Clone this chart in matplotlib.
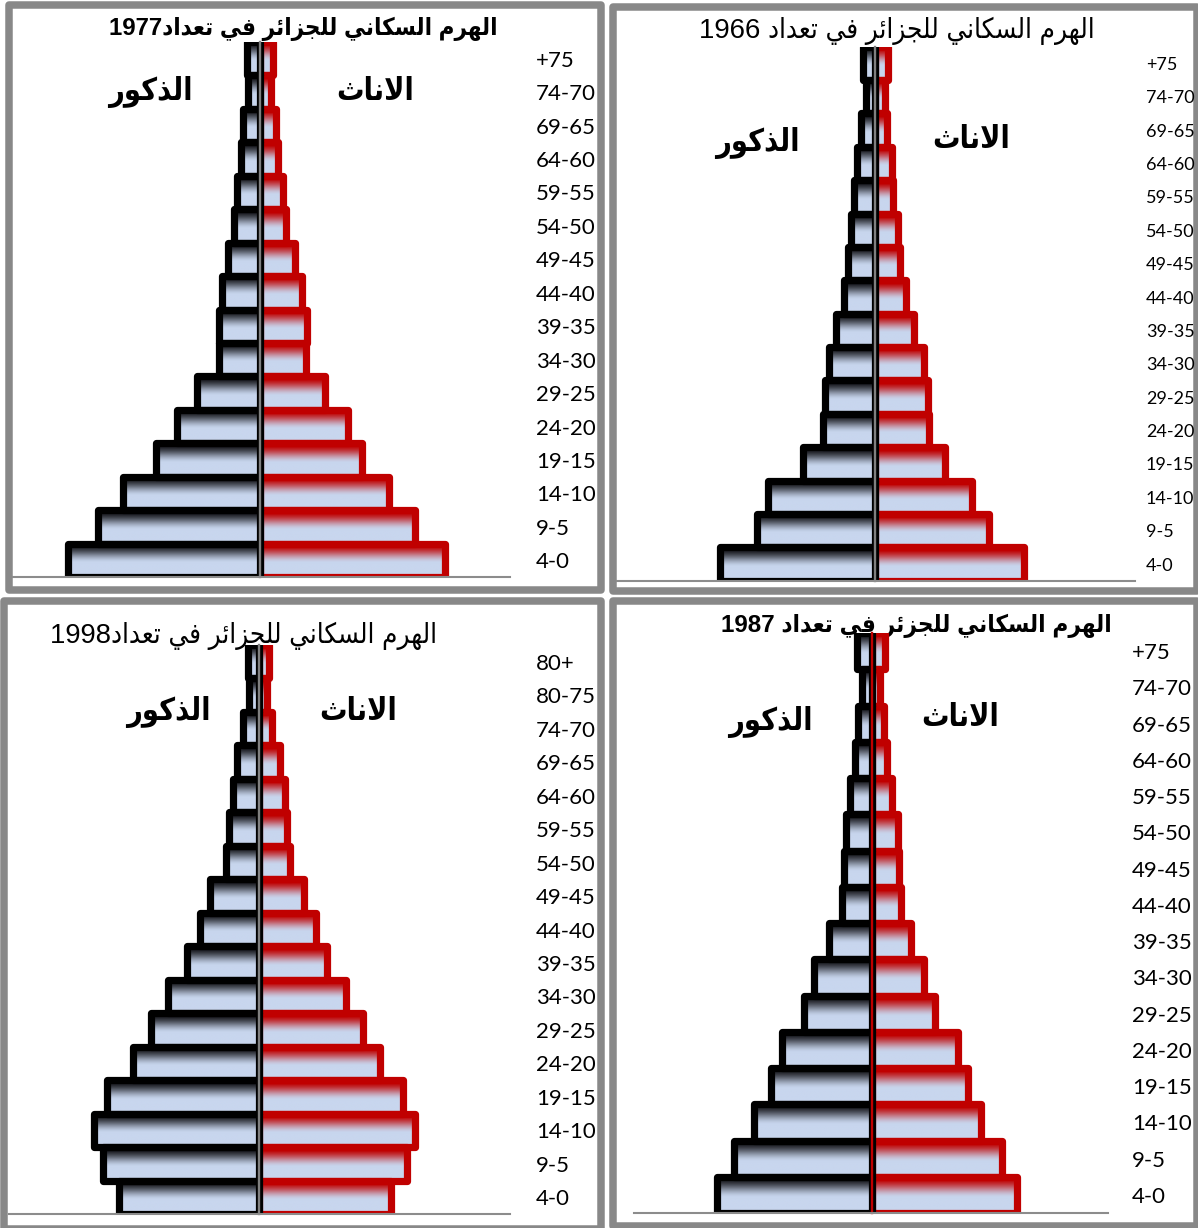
import re
import numpy as np
import matplotlib
matplotlib.use("Agg")
import matplotlib.pyplot as plt
from matplotlib.patches import Rectangle

# ---------------------------------------------------------------- data
# share of total population (%) per age group, youngest first
ages_16 = ["4-0", "9-5", "14-10", "19-15", "24-20", "29-25", "34-30", "39-35",
           "44-40", "49-45", "54-50", "59-55", "64-60", "69-65", "74-70", "+75"]
ages_17 = ["4-0", "9-5", "14-10", "19-15", "24-20", "29-25", "34-30", "39-35",
           "44-40", "49-45", "54-50", "59-55", "64-60", "69-65", "74-70", "80-75", "80+"]

male_1966 = [9.41, 7.16, 6.51, 4.38, 3.18, 3.06, 2.80, 2.36, 1.88, 1.65, 1.48, 1.30, 1.09, 0.83, 0.56, 0.74]
female_1966 = [9.06, 6.91, 5.86, 4.24, 3.27, 3.20, 2.97, 2.34, 1.85, 1.51, 1.39, 1.11, 1.04, 0.70, 0.58, 0.81]

male_1977 = [9.62, 8.11, 6.85, 5.18, 4.13, 3.17, 2.03, 2.03, 1.89, 1.61, 1.28, 1.13, 0.94, 0.84, 0.59, 0.65]
female_1977 = [9.24, 7.76, 6.46, 5.09, 4.38, 3.23, 2.28, 2.35, 2.12, 1.74, 1.30, 1.17, 0.92, 0.78, 0.55, 0.63]

male_1987 = [8.22, 7.33, 6.29, 5.37, 4.76, 3.59, 3.08, 2.27, 1.55, 1.45, 1.35, 1.14, 0.88, 0.73, 0.53, 0.80]
female_1987 = [7.78, 6.96, 5.84, 5.16, 4.61, 3.39, 2.78, 2.10, 1.55, 1.49, 1.39, 1.10, 0.84, 0.67, 0.43, 0.73]

male_1998 = [5.29, 5.90, 6.22, 5.75, 4.74, 4.06, 3.41, 2.71, 2.23, 1.84, 1.22, 1.12, 0.97, 0.83, 0.57, 0.36, 0.39]
female_1998 = [5.00, 5.62, 5.91, 5.48, 4.59, 3.96, 3.30, 2.61, 2.17, 1.71, 1.20, 1.09, 0.99, 0.80, 0.51, 0.33, 0.39]

title_1966 = "الهرم السكاني للجزائر في تعداد 1966"
title_1977 = "الهرم السكاني للجزائر في تعداد1977"
title_1987 = "الهرم السكاني للجزئر في تعداد 1987"
title_1998 = "الهرم السكاني للجزائر في تعداد1998"
label_male = "الذكور"
label_female = "الاناث"

# ---------------------------------------------------------------- arabic shaping
FORMS = {  # isolated, final, initial, medial
    "ا": ("\uFE8D", "\uFE8E", None, None),
    "ت": ("\uFE95", "\uFE96", "\uFE97", "\uFE98"),
    "ث": ("\uFE99", "\uFE9A", "\uFE9B", "\uFE9C"),
    "ج": ("\uFE9D", "\uFE9E", "\uFE9F", "\uFEA0"),
    "د": ("\uFEA9", "\uFEAA", None, None),
    "ذ": ("\uFEAB", "\uFEAC", None, None),
    "ر": ("\uFEAD", "\uFEAE", None, None),
    "ز": ("\uFEAF", "\uFEB0", None, None),
    "س": ("\uFEB1", "\uFEB2", "\uFEB3", "\uFEB4"),
    "ع": ("\uFEC9", "\uFECA", "\uFECB", "\uFECC"),
    "ف": ("\uFED1", "\uFED2", "\uFED3", "\uFED4"),
    "ك": ("\uFED9", "\uFEDA", "\uFEDB", "\uFEDC"),
    "ل": ("\uFEDD", "\uFEDE", "\uFEDF", "\uFEE0"),
    "م": ("\uFEE1", "\uFEE2", "\uFEE3", "\uFEE4"),
    "ن": ("\uFEE5", "\uFEE6", "\uFEE7", "\uFEE8"),
    "ه": ("\uFEE9", "\uFEEA", "\uFEEB", "\uFEEC"),
    "و": ("\uFEED", "\uFEEE", None, None),
    "ي": ("\uFEF1", "\uFEF2", "\uFEF3", "\uFEF4"),
    "ئ": ("\uFE89", "\uFE8A", "\uFE8B", "\uFE8C"),
}


def shape(text):
    """Contextual forms + right-to-left visual order for plain text rendering."""
    items, i = [], 0
    while i < len(text):
        if text[i] == "ل" and i + 1 < len(text) and text[i + 1] == "ا":
            items.append("LA")
            i += 2
        else:
            items.append(text[i])
            i += 1

    def dual(c):
        return c in FORMS and FORMS[c][2] is not None

    def joins(c):
        return c in FORMS or c == "LA"

    out = []
    for k, c in enumerate(items):
        prev = items[k - 1] if k > 0 else None
        nxt = items[k + 1] if k + 1 < len(items) else None
        p = prev is not None and dual(prev) and joins(c)
        if c == "LA":
            out.append("\uFEFC" if p else "\uFEFB")
            continue
        if c not in FORMS:
            out.append(c)
            continue
        n = dual(c) and nxt is not None and joins(nxt)
        iso, fin, ini, med = FORMS[c]
        out.append(med if (p and n) else fin if p else ini if n else iso)
    vis = "".join(reversed(out))
    return re.sub(r"[0-9]+", lambda m: m.group(0)[::-1], vis)


# ---------------------------------------------------------------- styling
W, H = 1198, 1228
plt.rcParams["font.family"] = ["Lato", "DejaVu Sans"]
fig = plt.figure(figsize=(W / 100, H / 100), dpi=100)
fig.patch.set_facecolor("white")

RED = "#C00000"
LW = 5.2
LIGHT = np.array([200, 214, 238]) / 255.0
DARK_TOP = np.array([0.08, 0.08, 0.10])
RED_TOP = np.array([0.75, 0.0, 0.0])
TITLE_FONT = ["Liberation Sans", "DejaVu Sans"]


def gradient(top, n=96):
    t = np.linspace(0, 1, n)
    w = np.clip((t - 0.04) / 0.55, 0, 1)
    w = w * w * (3 - 2 * w)
    cols = top[None, :] * (1 - w[:, None]) + LIGHT[None, :] * w[:, None]
    return cols[:, None, :]


def frame(x0, y0, x1, y1):
    fig.add_artist(Rectangle((x0 / W, 1 - y1 / H), (x1 - x0) / W, (y1 - y0) / H,
                             transform=fig.transFigure, fill=False,
                             edgecolor="#888888", linewidth=5.4,
                             joinstyle="round", zorder=-5))


def pyramid(box, center, ppu, ages, male, female, spine_color, pad, size):
    x0, y0, x1, y1 = box
    ax = fig.add_axes([x0 / W, 1 - y1 / H, (x1 - x0) / W, (y1 - y0) / H])
    ax.set_facecolor("none")
    y = np.arange(len(ages))
    fem = ax.barh(y, female, height=1.0, left=0, color="none",
                  edgecolor=RED, linewidth=LW, zorder=2)
    mal = ax.barh(y, [-v for v in male], height=1.0, left=0, color="none",
                  edgecolor="black", linewidth=LW, zorder=4)
    for bars, top, z in ((fem, RED_TOP, 1), (mal, DARK_TOP, 3)):
        g = gradient(top)
        for r in bars:
            r.set_joinstyle("round")
            a, b = r.get_x(), r.get_x() + r.get_width()
            yb, yt = r.get_y(), r.get_y() + r.get_height()
            im = ax.imshow(g, extent=(min(a, b), max(a, b), yb, yt), origin="upper",
                           aspect="auto", interpolation="bilinear", zorder=z)
            im.set_clip_path(r)
    ax.set_xlim((x0 - center) / ppu, (x1 - center) / ppu)
    ax.set_ylim(-0.5, len(ages) - 0.5)
    ax.set_aspect("auto")
    ax.spines["top"].set_visible(False)
    ax.spines["right"].set_visible(False)
    ax.spines["left"].set_position(("data", 0))
    ax.spines["left"].set_color(spine_color)
    ax.spines["left"].set_linewidth(1.7)
    ax.spines["left"].set_zorder(6)
    ax.spines["bottom"].set_color("#8c8c8c")
    ax.spines["bottom"].set_linewidth(1.5)
    ax.spines["bottom"].set_zorder(6)
    ax.set_xticks([])
    ax.yaxis.tick_right()
    ax.set_yticks(y, ages)
    ax.tick_params(axis="y", length=0, pad=pad, labelsize=size, colors="black")
    return ax


def ftext(x, y, s, size, weight="normal", family=TITLE_FONT):
    fig.text(x / W, 1 - y / H, shape(s), ha="center", va="center", fontsize=size,
             fontweight=weight, fontstretch="condensed", family=family,
             color="black", zorder=-1)


# ---------------------------------------------------------------- panels
frame(9, 5.5, 601.4, 590.4)
frame(612.9, 6.7, 1196.5, 590.5)
frame(3.7, 601, 601.4, 1229)
frame(613, 601, 1196.5, 1225.5)

pyramid((13, 42, 510, 577), 260, 20.0, ages_16, male_1977, female_1977, "#808080", 18.7, 16)
pyramid((617, 46.7, 1135, 580.7), 875, 16.5, ages_16, male_1966, female_1966, "#808080", 7.9, 13)
pyramid((9, 645, 510, 1214), 258.5, 26.4, ages_17, male_1998, female_1998, "#808080", 18.7, 16)
pyramid((634, 633, 1108, 1213), 871.5, 18.74, ages_16, male_1987, female_1987, RED, 17.3, 16)

ftext(303, 29, title_1977, 17.3, "bold")
ftext(897, 31, title_1966, 19.9)
ftext(244, 636, title_1998, 19.8)
ftext(916, 626, title_1987, 17.4, "bold")

for (mx, my), (fx, fy) in (((150, 92), (375, 92)), ((757, 143), (971, 140)),
                           ((168, 712), (358, 712)), ((770, 722), (960, 718))):
    ftext(mx, my, label_male, 22, "bold", ["DejaVu Sans"])
    ftext(fx, fy, label_female, 22, "bold", ["DejaVu Sans"])

fig.savefig("out.png", dpi=100, facecolor="white")
